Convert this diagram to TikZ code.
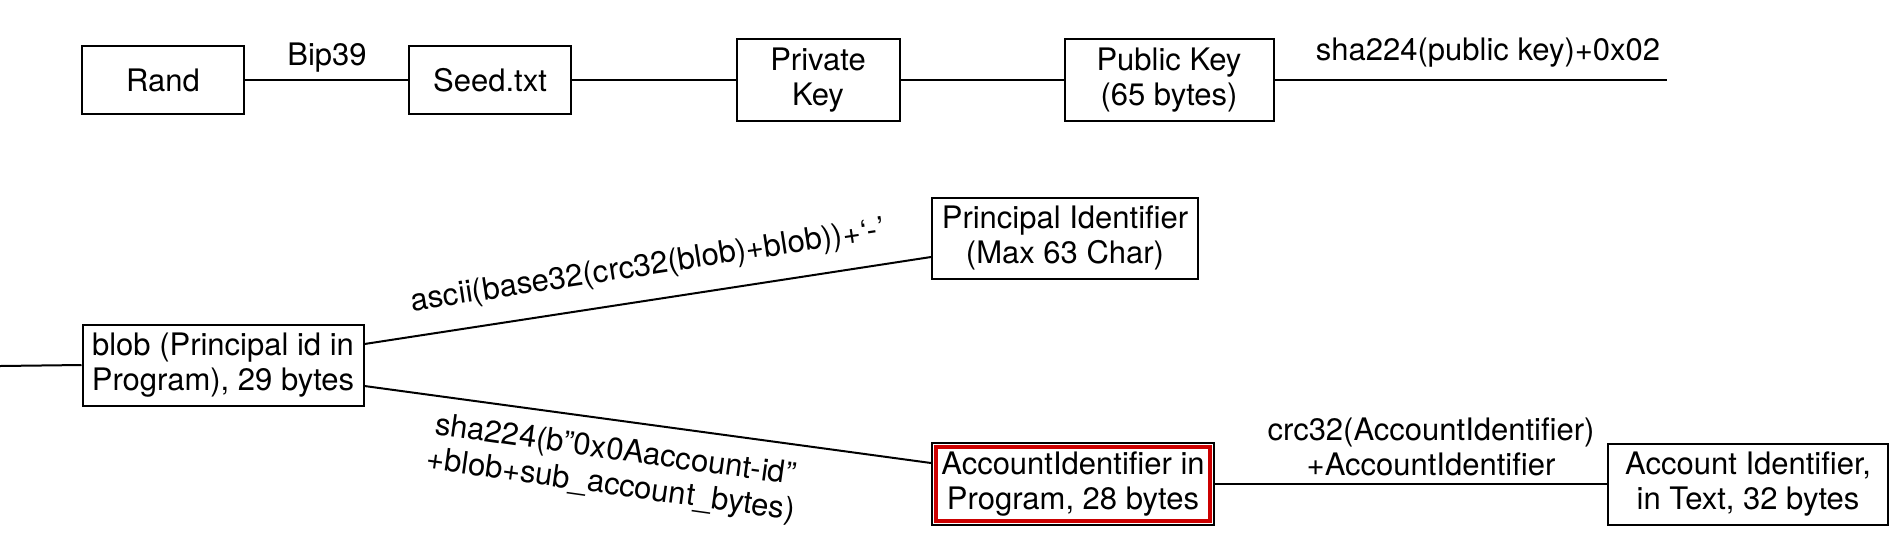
\documentclass[tikz,border=0pt]{standalone}
\usepackage{fontspec}
\setmainfont{TeX Gyre Heros}
\definecolor{hilite}{RGB}{204,0,0}
\begin{document}
\begin{tikzpicture}[x=1pt,y=-1pt,
  font=\fontsize{31}{35}\selectfont,
  box/.style={draw,line width=2pt,align=center,inner sep=0pt},
  lbl/.style={inner sep=0pt,align=center},
  conn/.style={line width=2pt}]
\useasboundingbox (0,0) rectangle (1897,558);
% top row
\node[box,minimum width=162pt,minimum height=68pt] (rand) at (163,80) {Rand};
\node[box,minimum width=162pt,minimum height=68pt] (seed) at (490,80) {Seed.txt};
\node[box,minimum width=163pt,minimum height=82pt] (priv) at (818,80) {Private\\Key};
\node[box,minimum width=209pt,minimum height=82pt] (pub) at (1169,80) {Public Key\\(65 bytes)};
\coordinate (topend) at (1667,80);
\draw[conn] (rand) -- (seed);
\draw[conn] (seed) -- (priv);
\draw[conn] (priv) -- (pub);
\draw[conn] (pub) -- (topend);
\node[lbl] (lbip) at (327,58) {Bip39};
\node[lbl] (lsha) at (1488,53) {sha224(public key)+0x02};
% bottom
\node[box,minimum width=266pt,minimum height=81pt] (prin) at (1065,238) {Principal Identifier\\(Max 63 Char)};
\node[box,minimum width=281pt,minimum height=81pt] (blob) at (223,365) {blob (Principal id in\\Program), 29 bytes};
\node[box,minimum width=282pt,minimum height=82pt] (acct) at (1073,484) {AccountIdentifier in\\Program, 28 bytes};
\draw[hilite,line width=3.5pt] ([shift={(5pt,-5pt)}]acct.north west) rectangle ([shift={(-5pt,5pt)}]acct.south east);
\node[box,minimum width=280pt,minimum height=81pt] (text) at (1748,484) {Account Identifier,\\in Text, 32 bytes};
\coordinate (leftend) at (0,366);
\draw[conn] (leftend) -- (blob.west);
\draw[conn] ([yshift=21pt]blob.east) -- ([yshift=-19pt]prin.west);
\draw[conn] ([yshift=-21pt]blob.east) -- ([yshift=21pt]acct.west);
\draw[conn] (acct) -- (text);
\node[lbl,rotate=8.7] (lascii) at (648,267) {ascii(base32(crc32(blob)+blob))+‘-’};
\node[lbl,rotate=-8] (lsub) at (613,469) {sha224(b”0x0Aaccount-id”\\+blob+sub\_account\_bytes)};
\node[lbl] (lcrc) at (1431,447) {crc32(AccountIdentifier)\\+AccountIdentifier};
\end{tikzpicture}
\end{document}
